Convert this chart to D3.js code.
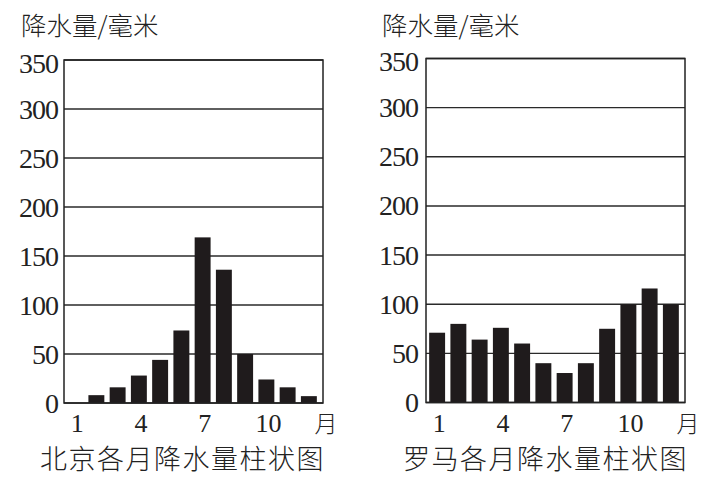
<!DOCTYPE html>
<html><head><meta charset="utf-8">
<script src="https://cdn.jsdelivr.net/npm/d3@7"></script>
<style>
html,body{margin:0;padding:0;background:#fff;}
svg{display:block;}
</style>
</head><body>
<script>
const months = [1,2,3,4,5,6,7,8,9,10,11,12];
const beijingRain = [0, 8, 16, 28, 44, 74, 169, 136, 50, 24, 16, 7];
const romeRain = [71, 80, 64, 76, 60, 40, 30, 40, 75, 100, 116, 100];
const yTicks = [0, 50, 100, 150, 200, 250, 300, 350];
const xTickMonths = [1, 4, 7, 10];
const yLabel = "降水量/毫米";
const monthUnit = "月";
const titles = ["北京各月降水量柱状图", "罗马各月降水量柱状图"];

const W = 717, H = 481;
const svg = d3.select("body").append("svg").attr("width", W).attr("height", H);
svg.append("rect").attr("width", W).attr("height", H).attr("fill", "#fff");

const cjk = "'Noto Sans CJK SC', 'Noto Sans', sans-serif";
const serif = "'Liberation Serif', 'DejaVu Serif', serif";
const ink = "#1f1b1c";

function panel(cfg, values, title) {
  const g = svg.append("g");
  const y = d3.scaleLinear().domain([0, 350]).range([cfg.yBot, cfg.yTop]);
  const x = d3.scaleBand().domain(months).range([cfg.x0 + 0.5, cfg.x1 - 3.5])
    .paddingInner(0.25).paddingOuter(0.125);

  g.selectAll("line.grid").data(yTicks).join("line")
    .attr("x1", cfg.x0).attr("x2", cfg.x1)
    .attr("y1", d => y(d)).attr("y2", d => y(d))
    .attr("stroke", "#2a2a2a").attr("stroke-width", 1.4);

  g.selectAll("rect.bar").data(months).join("rect")
    .attr("x", m => x(m)).attr("width", x.bandwidth())
    .attr("y", (m, i) => y(values[i]))
    .attr("height", (m, i) => y(0) - y(values[i]))
    .attr("fill", ink);

  g.append("rect").attr("x", cfg.x0).attr("y", cfg.yTop)
    .attr("width", cfg.x1 - cfg.x0).attr("height", cfg.yBot - cfg.yTop)
    .attr("fill", "none").attr("stroke", "#222").attr("stroke-width", 1.5);

  g.selectAll("text.yt").data(yTicks).join("text")
    .attr("x", cfg.x0 - cfg.labGap).attr("y", d => y(d) + (d === 350 ? 3 : 0))
    .attr("dy", "0.34em")
    .attr("text-anchor", "end")
    .attr("font-family", serif).attr("font-size", 28).attr("letter-spacing", -1)
    .attr("fill", "#222").text(d => d);

  g.selectAll("text.xt").data(xTickMonths).join("text")
    .attr("x", m => x(m) + x.bandwidth() / 2 + 2).attr("y", cfg.yBot + 29)
    .attr("text-anchor", "middle")
    .attr("font-family", serif).attr("font-size", 26)
    .attr("fill", "#222").text(m => m);

  g.append("text").attr("x", cfg.x1 + 3).attr("y", cfg.yBot + 29)
    .attr("text-anchor", "middle")
    .attr("font-family", cjk).attr("font-size", 23).attr("font-weight", 300)
    .attr("fill", "#222").text(monthUnit);

  g.append("text").attr("x", cfg.ylx).attr("y", 35)
    .attr("font-family", cjk).attr("font-size", 25.5).attr("font-weight", 300)
    .attr("fill", "#222").text(yLabel);

  g.append("text").attr("x", cfg.tx).attr("y", 469)
    .attr("font-family", cjk).attr("font-size", 27).attr("letter-spacing", 1.5)
    .attr("font-weight", 300)
    .attr("fill", "#222").text(title);
}

panel({x0: 64, x1: 323, yTop: 60, yBot: 403, labGap: 6, ylx: 21, tx: 40}, beijingRain, titles[0]);
panel({x0: 426, x1: 685, yTop: 58.5, yBot: 402.5, labGap: 8, ylx: 382, tx: 403}, romeRain, titles[1]);
</script>
</body></html>
